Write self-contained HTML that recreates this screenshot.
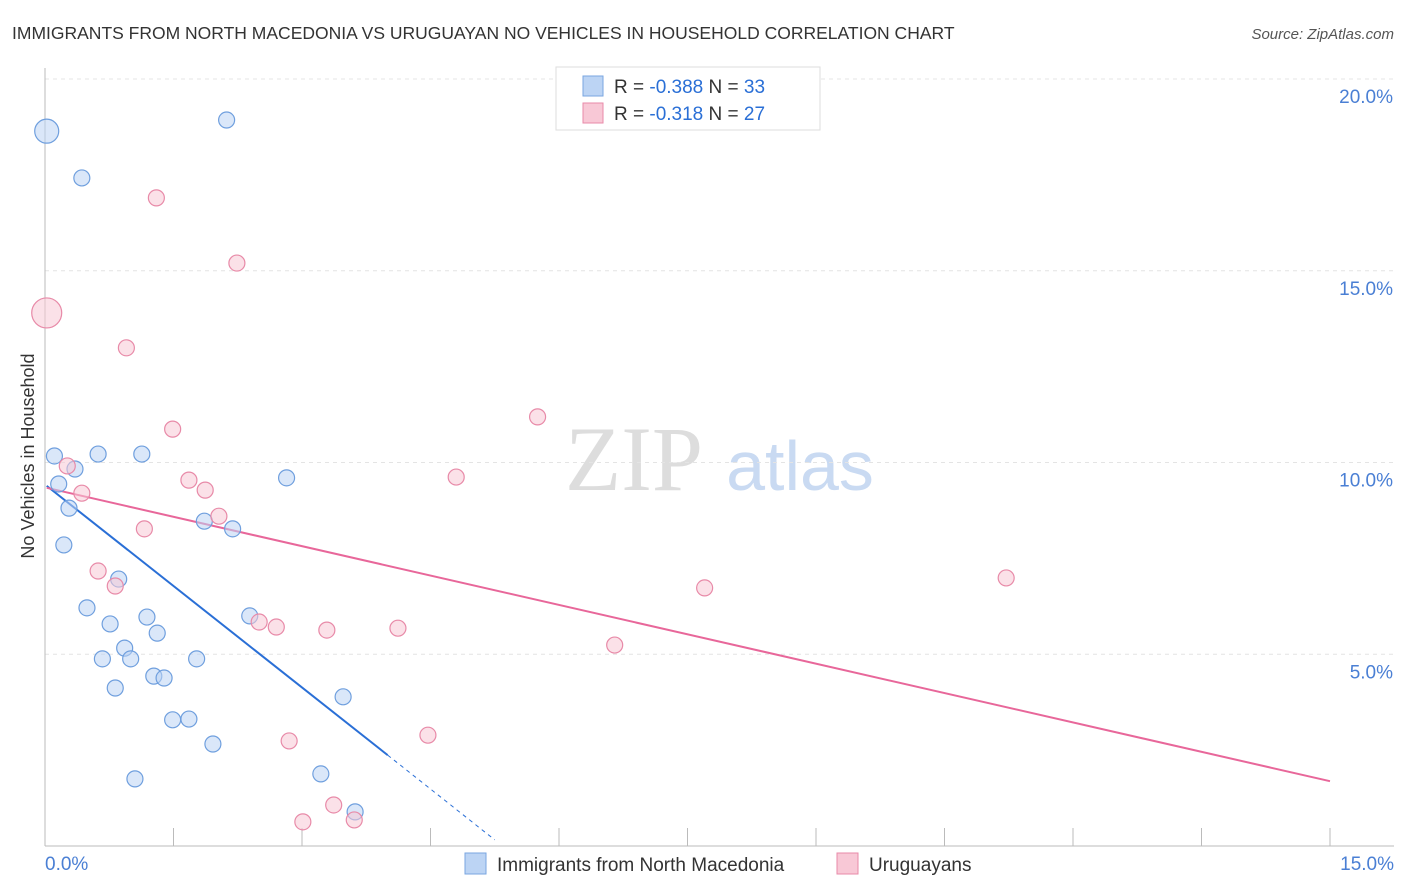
<!DOCTYPE html>
<html><head><meta charset="utf-8"><style>
body{margin:0;background:#fff;font-family:"Liberation Sans",sans-serif;}
#wrap{position:relative;width:1406px;height:892px;overflow:hidden;}
</style></head><body>
<div id="wrap">
<svg id="chart" width="1406" height="892">
<text x="12" y="39" font-size="17.5" fill="#333">IMMIGRANTS FROM NORTH MACEDONIA VS URUGUAYAN NO VEHICLES IN HOUSEHOLD CORRELATION CHART</text>
<text x="1394" y="39" font-size="15" fill="#555" font-style="italic" text-anchor="end">Source: ZipAtlas.com</text>
<text x="634" y="490" font-size="92" fill="#ddd" font-family="Liberation Serif,serif" text-anchor="middle">ZIP</text>
<text x="800" y="490" font-size="70" fill="#c9daf2" text-anchor="middle">atlas</text>
<text transform="translate(34,456) rotate(-90)" font-size="18" fill="#333" text-anchor="middle">No Vehicles in Household</text>
<g id="grid"></g><g id="axes"></g><g id="lines"></g><g id="pts"></g>
<g>
<rect x="556" y="67" width="264" height="63" fill="#fff" stroke="#ddd"/>
<rect x="583" y="76" width="20" height="20" fill="#bcd4f4" stroke="#7aa6e0"/>
<text x="614" y="93" font-size="19" fill="#333">R = <tspan fill="#2a6fd6">-0.388</tspan>   N = <tspan fill="#2a6fd6">33</tspan></text>
<rect x="583" y="103" width="20" height="20" fill="#f8c8d6" stroke="#e88aa8"/>
<text x="614" y="120" font-size="19" fill="#333">R =  <tspan fill="#2a6fd6">-0.318</tspan>   N = <tspan fill="#2a6fd6">27</tspan></text>
</g>
<g>
<rect x="465" y="853" width="21" height="21" fill="#bcd4f4" stroke="#7aa6e0"/>
<text x="497" y="871" font-size="19" fill="#333">Immigrants from North Macedonia</text>
<rect x="837" y="853" width="21" height="21" fill="#f8c8d6" stroke="#e88aa8"/>
<text x="869" y="871" font-size="19" fill="#333">Uruguayans</text>
</g>
</svg></div>
<script>
const blueX=[0.02,2.12,0.43,0.11,0.62,1.13,0.35,0.16,0.28,2.82,0.22,1.86,2.19,0.86,0.49,0.76,1.19,2.39,1.31,0.93,0.67,1.00,1.77,1.27,1.39,0.82,3.48,1.49,1.68,1.96,1.05,3.22,3.62];
const blueY=[18.64,18.93,17.42,10.17,10.22,10.22,9.83,9.44,8.81,9.60,7.85,8.47,8.27,6.96,6.21,5.79,5.97,6.00,5.55,5.16,4.88,4.88,4.88,4.43,4.38,4.12,3.89,3.29,3.31,2.66,1.75,1.88,0.89];
const blueBig=[0];
const pinkX=[0.02,1.30,2.24,0.95,1.49,5.75,0.26,0.43,1.68,1.87,4.80,1.16,2.03,0.62,0.82,7.70,11.22,2.50,2.70,3.29,4.12,6.65,2.85,4.47,3.37,3.01,3.61];
const pinkY=[13.90,16.90,15.20,12.99,10.87,11.19,9.91,9.20,9.54,9.28,9.62,8.27,8.60,7.17,6.78,6.73,6.99,5.84,5.71,5.63,5.68,5.24,2.74,2.89,1.07,0.63,0.68];
const pinkBig=[0];
const blueTrend=[[0.02,9.39],[4.0,2.37],[5.25,0.16]];
const pinkTrend=[[0.02,9.34],[15,1.69]];
const yTicks=[5,10,15,20];
const yTickLabels=["5.0%","10.0%","15.0%","20.0%"];
const xTickCount=10;
const X=v=>45+v/15*1285, Y=v=>846-v*38.35;
const NS="http://www.w3.org/2000/svg";
function mk(t,a,p){const e=document.createElementNS(NS,t);for(const k in a)e.setAttribute(k,a[k]);document.getElementById(p).appendChild(e);return e;}
yTicks.forEach((t,i)=>{
 const g=mk('line',{x1:45,x2:1394,y1:Y(t),y2:Y(t),stroke:'#e4e4e4','stroke-dasharray':'4,4'},'grid');
 
 
 const l=mk('text',{x:1393,y:Y(t)+24,'font-size':19,fill:'#4a7fd4','text-anchor':'end'},'axes');
 l.textContent=yTickLabels[i];
 
 
});
const ax=mk('line',{x1:45,x2:1394,y1:846,y2:846,stroke:'#bbb'},'axes');


const ay=mk('line',{x1:45,x2:45,y1:68,y2:846,stroke:'#bbb'},'axes');


for(let i=0;i<=xTickCount;i++){const v=15*i/xTickCount;
 const t=mk('line',{x1:X(v),x2:X(v),y1:828,y2:846,stroke:'#bbb'},'axes');
 
 }
[[0,"0.0%",'start',45],[15,"15.0%",'end',1394]].forEach(d=>{
 const l=mk('text',{x:d[3],y:870,'font-size':19,fill:'#4a7fd4','text-anchor':d[2]},'axes');l.textContent=d[1];
 
 });
function pts(xs,ys,big,fill,stroke,name,br){xs.forEach((x,i)=>{
 const c=mk('circle',{cx:X(x),cy:Y(ys[i]),r:big.includes(i)?br:8,fill:fill,'fill-opacity':0.55,stroke:stroke,'stroke-width':1.2},'pts');
 
 });}
pts(blueX,blueY,blueBig,'#bcd4f4','#6f9fde','point-north-macedonia',12);
pts(pinkX,pinkY,pinkBig,'#f8c8d6','#e88aa8','point-uruguayans',15);
const bl=mk('line',{x1:X(blueTrend[0][0]),y1:Y(blueTrend[0][1]),x2:X(blueTrend[1][0]),y2:Y(blueTrend[1][1]),stroke:'#2a6fd6','stroke-width':2},'lines');


const bd=mk('line',{x1:X(blueTrend[1][0]),y1:Y(blueTrend[1][1]),x2:X(blueTrend[2][0]),y2:Y(blueTrend[2][1]),stroke:'#2a6fd6','stroke-width':1,'stroke-dasharray':'4,4'},'lines');


const pl=mk('line',{x1:X(pinkTrend[0][0]),y1:Y(pinkTrend[0][1]),x2:X(pinkTrend[1][0]),y2:Y(pinkTrend[1][1]),stroke:'#e8679a','stroke-width':2},'lines');


</script></body></html>
